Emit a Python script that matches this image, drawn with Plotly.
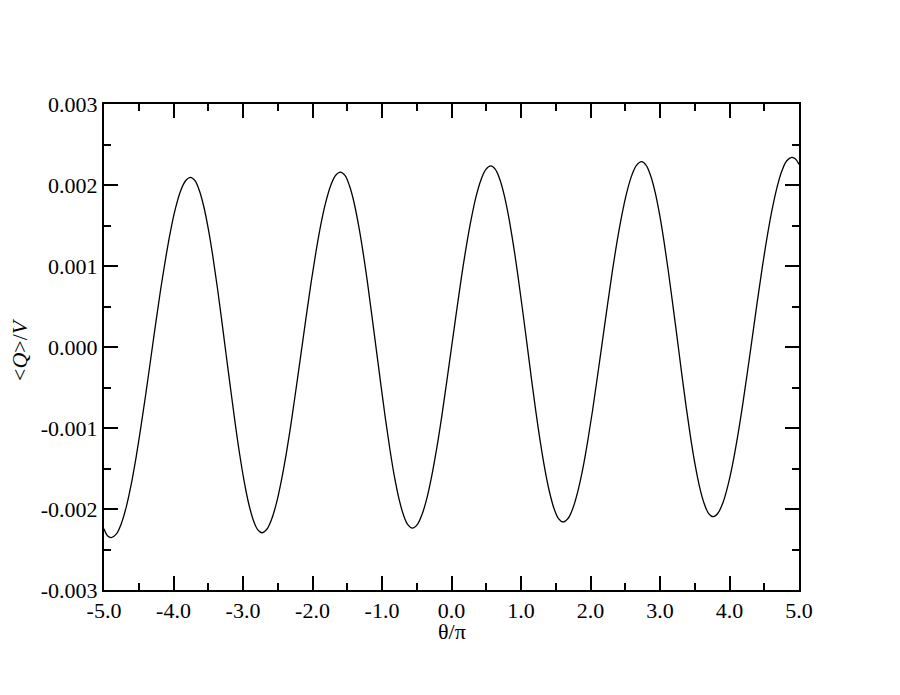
import plotly.graph_objects as go

# Curve samples read/ (theta/pi, <Q>/V in units of 1e-3)
theta = [
    -5.000, -4.950, -4.895,
    -4.824, -4.753, -4.681, -4.610, -4.539, -4.468, -4.396, -4.325,
    -4.254, -4.183, -4.111, -4.040, -3.969, -3.898, -3.826,
    -3.755,
    -3.691, -3.627, -3.562, -3.498, -3.434, -3.370, -3.306, -3.242,
    -3.177, -3.113, -3.049, -2.985, -2.921, -2.856, -2.792,
    -2.728,
    -2.657, -2.587, -2.516, -2.446, -2.375, -2.304, -2.234, -2.163,
    -2.092, -2.022, -1.951, -1.881, -1.810, -1.739, -1.669,
    -1.598,
    -1.533, -1.469, -1.404, -1.340, -1.275, -1.210, -1.146, -1.081,
    -1.016, -0.952, -0.887, -0.823, -0.758, -0.693, -0.629,
    -0.564,
    -0.493, -0.423, -0.352, -0.282, -0.211, -0.140, -0.070, 0.001,
    0.072, 0.142, 0.213, 0.284, 0.354, 0.425, 0.495,
    0.566,
    0.631, 0.696, 0.761, 0.826, 0.891, 0.956, 1.021, 1.086,
    1.150, 1.215, 1.280, 1.345, 1.410, 1.475, 1.540,
    1.605,
    1.676, 1.746, 1.817, 1.888, 1.958, 2.029, 2.099, 2.170,
    2.241, 2.311, 2.382, 2.453, 2.523, 2.594, 2.664,
    2.735,
    2.799, 2.863, 2.928, 2.992, 3.056, 3.120, 3.184, 3.249,
    3.313, 3.377, 3.441, 3.505, 3.569, 3.634, 3.698,
    3.762,
    3.833, 3.904, 3.974, 4.045, 4.116, 4.187, 4.258, 4.329,
    4.399, 4.470, 4.541, 4.612, 4.683, 4.753, 4.824,
    4.895, 4.950, 5.000,
]
q_milli = [
    -2.245, -2.330, -2.354,
    -2.311, -2.185, -1.979, -1.703, -1.365, -0.981, -0.564, -0.130,
    0.305, 0.722, 1.106, 1.444, 1.720, 1.926, 2.052,
    2.095,
    2.053, 1.928, 1.725, 1.452, 1.120, 0.741, 0.329, -0.099,
    -0.527, -0.939, -1.318, -1.650, -1.923, -2.126, -2.251,
    -2.293,
    -2.250, -2.124, -1.918, -1.641, -1.304, -0.919, -0.501, -0.067,
    0.368, 0.786, 1.171, 1.508, 1.785, 1.991, 2.117,
    2.160,
    2.118, 1.993, 1.790, 1.516, 1.183, 0.803, 0.391, -0.038,
    -0.467, -0.879, -1.259, -1.592, -1.866, -2.069, -2.194,
    -2.236,
    -2.193, -2.065, -1.859, -1.581, -1.242, -0.856, -0.436, 0.000,
    0.436, 0.856, 1.242, 1.581, 1.859, 2.065, 2.193,
    2.235,
    2.193, 2.068, 1.865, 1.591, 1.258, 0.879, 0.466, 0.038,
    -0.391, -0.804, -1.183, -1.516, -1.790, -1.993, -2.118,
    -2.160,
    -2.117, -1.991, -1.785, -1.509, -1.172, -0.787, -0.370, 0.064,
    0.498, 0.915, 1.300, 1.637, 1.913, 2.119, 2.245,
    2.288,
    2.246, 2.121, 1.919, 1.646, 1.314, 0.935, 0.524, 0.097,
    -0.331, -0.742, -1.121, -1.453, -1.726, -1.928, -2.053,
    -2.095,
    -2.052, -1.926, -1.721, -1.445, -1.109, -0.726, -0.309, 0.124,
    0.556, 0.973, 1.356, 1.692, 1.968, 2.173, 2.299,
    2.342, 2.321, 2.255,
]
q_over_v = [v * 1e-3 for v in q_milli]

x_tickvals = [-5, -4, -3, -2, -1, 0, 1, 2, 3, 4, 5]
x_ticktext = ["-5.0", "-4.0", "-3.0", "-2.0", "-1.0", "0.0", "1.0", "2.0", "3.0", "4.0", "5.0"]
y_tickvals = [-0.003, -0.002, -0.001, 0.0, 0.001, 0.002, 0.003]
y_ticktext = ["-0.003", "-0.002", "-0.001", "0.000", "0.001", "0.002", "0.003"]
x_title = "θ/π"
y_title = "&lt;<i>Q</i>&gt;/<i>V</i>"

FONT = "Liberation Serif"

fig = go.Figure()
fig.add_trace(go.Scatter(
    x=theta, y=q_over_v, mode="lines",
    line=dict(color="black", width=1.3, shape="spline", smoothing=1.0),
    showlegend=False, hoverinfo="skip"))

axis_common = dict(
    showgrid=False, zeroline=False, showline=True, linecolor="black", linewidth=2,
    mirror="ticks", ticks="inside", ticklen=14, tickwidth=1.5, tickcolor="black",
    tickfont=dict(family=FONT, size=22, color="black"),
)

fig.update_xaxes(
    range=[-5, 5], tickvals=x_tickvals, ticktext=x_ticktext,
    minor=dict(ticks="inside", ticklen=7, tickwidth=1.5, tickcolor="black", dtick=0.5, tick0=0),
    **axis_common)
fig.update_yaxes(
    range=[-0.003, 0.003], tickvals=y_tickvals, ticktext=y_ticktext,
    minor=dict(ticks="inside", ticklen=7, tickwidth=1.5, tickcolor="black", dtick=0.0005, tick0=0),
    **axis_common)

fig.add_annotation(text=x_title, xref="paper", yref="paper", x=0.5, y=0,
                   xanchor="center", yanchor="middle", yshift=-41, showarrow=False,
                   font=dict(family=FONT, size=22, color="black"))
fig.add_annotation(text=y_title, xref="paper", yref="paper", x=0, y=0.5, textangle=-90,
                   xanchor="center", yanchor="middle", xshift=-85, yshift=-3, showarrow=False,
                   font=dict(family=FONT, size=22, color="black"))

# the page body has an 8px margin, so the figure is shrunk by 8px and the margins shifted
fig.update_layout(
    width=892, height=687,
    margin=dict(l=96, r=101, t=96, b=105, autoexpand=False),
    paper_bgcolor="white", plot_bgcolor="white",
)

fig.write_html("out.html")
